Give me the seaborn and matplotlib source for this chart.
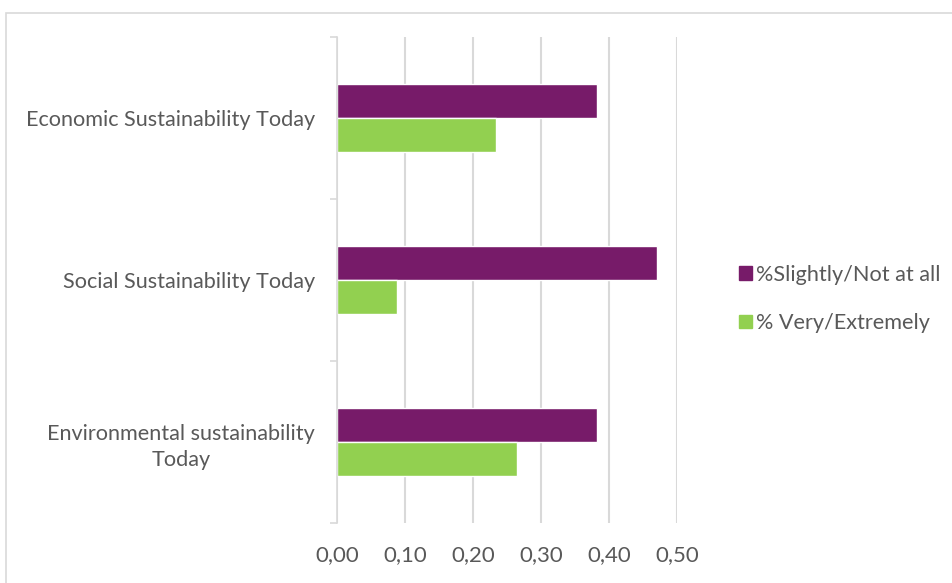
import pandas as pd
import seaborn as sns
import matplotlib.pyplot as plt
from matplotlib.patches import Rectangle
from matplotlib.ticker import FuncFormatter, FixedLocator

categories = ["Economic Sustainability Today",
              "Social Sustainability Today",
              "Environmental sustainability\nToday"]
series_names = ["%Slightly/Not at all", "% Very/Extremely"]
slightly_not = [0.382, 0.470, 0.382]
very_extremely = [0.234, 0.088, 0.265]
x_ticks = [0.0, 0.1, 0.2, 0.3, 0.4, 0.5]

colors = ["#771B69", "#92D050"]
text_color = "#595959"
grid_color = "#D9D9D9"

df = pd.DataFrame({
    "category": categories * 2,
    "series": [series_names[0]] * 3 + [series_names[1]] * 3,
    "value": slightly_not + very_extremely,
})

sns.set_style("white")
plt.rcParams["font.family"] = ["Lato", "DejaVu Sans"]

fig = plt.figure(figsize=(9.52, 5.83), dpi=100)
ax = fig.add_axes([337 / 952, 1 - 523 / 583, 340 / 952, 486 / 583])

sns.barplot(data=df, x="value", y="category", hue="series", orient="h",
            order=categories, hue_order=series_names, palette=colors,
            width=0.42, saturation=1, ax=ax, legend=False)

ax.set_xlim(0, 0.5)
ax.set_ylim(2.5, -0.5)
ax.set_xticks(x_ticks)
ax.xaxis.set_major_formatter(FuncFormatter(lambda v, p: f"{v:.2f}".replace(".", ",")))
ax.grid(axis="x", color=grid_color, linewidth=1.5)
ax.set_axisbelow(True)

for s in ["top", "right", "bottom"]:
    ax.spines[s].set_visible(False)
ax.spines["left"].set_color(grid_color)
ax.spines["left"].set_linewidth(1.2)

ax.tick_params(axis="x", length=0, pad=16, labelsize=16, labelcolor=text_color)
ax.tick_params(axis="y", which="major", left=True, length=0, pad=16, labelsize=15.6,
               labelcolor=text_color)
ax.yaxis.set_minor_locator(FixedLocator([-0.5, 0.5, 1.5, 2.5]))
ax.tick_params(axis="y", which="minor", left=True, length=5, width=1.2,
               color=grid_color, direction="out")
for lbl in ax.get_yticklabels():
    lbl.set_multialignment("center")
    lbl.set_linespacing(1.4)

ax.set_xlabel("")
ax.set_ylabel("")

handles = [Rectangle((0, 0), 1, 1, color=c) for c in colors]
fig.legend(handles, series_names, loc="center left", bbox_to_anchor=(719 / 952, 1 - 299 / 583),
           frameon=False, fontsize=15.6, labelcolor=text_color, handlelength=0.6,
           handleheight=0.6, handletextpad=0.2, labelspacing=1.3)

fig.patches.append(Rectangle((6 / 952, -0.01), 1.0, 1 - 13 / 583 + 0.01,
                             transform=fig.transFigure, fill=False,
                             edgecolor=grid_color, linewidth=1.2))

fig.savefig("out.png", dpi=100, facecolor="white")
